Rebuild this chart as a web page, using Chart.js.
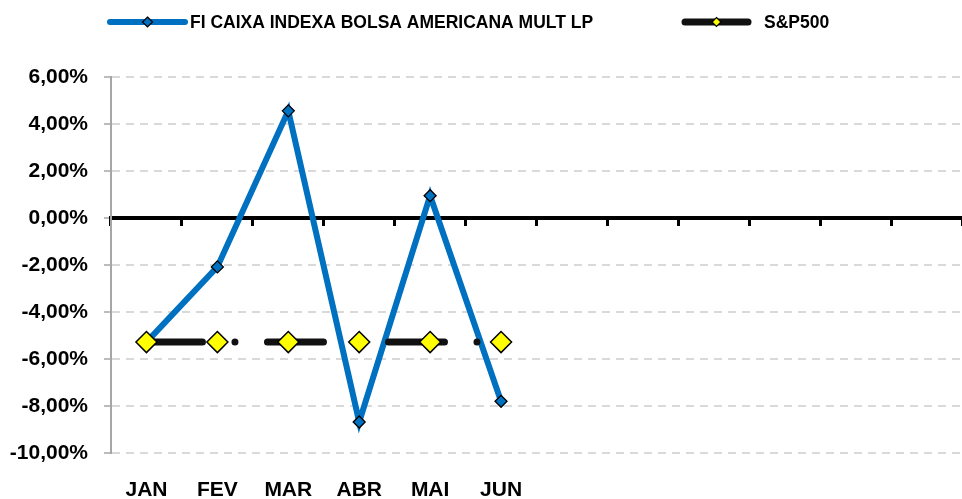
<!DOCTYPE html>
<html>
<head>
<meta charset="utf-8">
<script src="https://cdn.jsdelivr.net/npm/chart.js@4.4.1/dist/chart.umd.min.js"></script>
<style>
  html, body { margin: 0; padding: 0; background: #fff; overflow: hidden; }
  #wrap { width: 962px; height: 499px; position: relative; }
</style>
</head>
<body>
<div id="wrap"><canvas id="chart"></canvas></div>
<script>
// data
const months = ['JAN', 'FEV', 'MAR', 'ABR', 'MAI', 'JUN', '', '', '', '', '', ''];
const fundName = 'FI CAIXA INDEXA BOLSA AMERICANA MULT LP';
const fundValues = [-5.28, -2.08, 4.56, -8.68, 0.95, -7.80];
const indexName = 'S&P500';
const indexValues = [-5.28, -5.28, -5.28, -5.28, -5.28, -5.28];
const yMin = -10, yMax = 6, yStep = 2;

const FONT = "'Liberation Sans', Arial, sans-serif";

const diamond = (ctx, x, y, r, fill, stroke, lw) => {
  ctx.beginPath();
  ctx.moveTo(x, y - r);
  ctx.lineTo(x + r, y);
  ctx.lineTo(x, y + r);
  ctx.lineTo(x - r, y);
  ctx.closePath();
  ctx.fillStyle = fill;
  ctx.fill();
  ctx.lineWidth = lw;
  ctx.strokeStyle = stroke;
  ctx.stroke();
};

// excel style legend: line sample + marker, labels on top
const topLegend = {
  id: 'topLegend',
  afterDraw(chart) {
    const ctx = chart.ctx;
    const y = 22;
    const items = [
      {x0: 110, x1: 185, tx: 190, r: 5, ds: chart.data.datasets[0]},
      {x0: 685, x1: 748, tx: 764, r: 4.5, ds: chart.data.datasets[1]}
    ];
    ctx.save();
    items.forEach(it => {
      ctx.beginPath();
      ctx.lineCap = 'round';
      ctx.lineWidth = it.ds.borderWidth;
      ctx.strokeStyle = it.ds.borderColor;
      ctx.moveTo(it.x0, y);
      ctx.lineTo(it.x1, y);
      ctx.stroke();
      diamond(ctx, (it.x0 + it.x1) / 2, y, it.r, it.ds.pointBackgroundColor, '#000', 1.2);
      ctx.fillStyle = '#000';
      ctx.font = 'bold 17.5px ' + FONT;
      ctx.textAlign = 'left';
      ctx.textBaseline = 'middle';
      ctx.fillText(it.ds.label, it.tx, y + 1);
    });
    ctx.restore();
  }
};

new Chart(document.getElementById('chart'), {
  type: 'line',
  data: {
    labels: months,
    datasets: [{
      label: fundName,
      data: fundValues,
      borderColor: '#0070C0',
      backgroundColor: '#0070C0',
      borderWidth: 6,
      pointStyle: 'rectRot',
      pointRadius: 6,
      pointBackgroundColor: '#0070C0',
      pointBorderColor: '#000',
      pointBorderWidth: 1.3,
      tension: 0,
      order: 2
    }, {
      label: indexName,
      data: indexValues,
      borderColor: '#111',
      backgroundColor: '#FFFF00',
      borderWidth: 7,
      borderDash: [56, 32.5, 0.01, 32.5],
      borderCapStyle: 'round',
      pointStyle: 'rectRot',
      pointRadius: 10.5,
      pointBackgroundColor: '#FFFF00',
      pointBorderColor: '#000',
      pointBorderWidth: 1.5,
      tension: 0,
      order: 1
    }]
  },
  options: {
    responsive: true,
    maintainAspectRatio: false,
    animation: false,
    devicePixelRatio: 1,
    layout: { autoPadding: false, padding: { top: 77, left: 10, right: 0, bottom: 0 } },
    plugins: {
      legend: { display: false },
      tooltip: { enabled: false }
    },
    scales: {
      x: {
        offset: true,
        grid: { display: false },
        border: { display: false },
        ticks: {
          color: '#000',
          font: { family: FONT, size: 21, weight: 'bold' },
          padding: 17,
          maxRotation: 0,
          autoSkip: false
        },
        afterFit(scale) { scale.height = 46; }
      },
      x2: {
        type: 'category',
        axis: 'x',
        position: { y: 0 },
        offset: true,
        grid: {
          offset: true,
          drawOnChartArea: false,
          drawTicks: true,
          tickLength: 6,
          tickWidth: 3,
          tickColor: '#000'
        },
        border: { display: true, color: '#000', width: 4 },
        ticks: { display: false }
      },
      y: {
        min: yMin,
        max: yMax,
        grid: {
          color: '#d9d9d9',
          lineWidth: 2,
          drawTicks: true,
          tickLength: 7,
          tickColor: '#a6a6a6',
          tickWidth: 1.5
        },
        border: { display: true, color: '#a6a6a6', width: 2, dash: [8, 6] },
        ticks: {
          stepSize: yStep,
          color: '#000',
          padding: 16,
          font: { family: FONT, size: 21, weight: 'bold' },
          callback: v => v.toFixed(2).replace('.', ',') + '%'
        },
        afterFit(scale) { scale.width = 101; }
      }
    }
  },
  plugins: [topLegend]
});
</script>
</body>
</html>
